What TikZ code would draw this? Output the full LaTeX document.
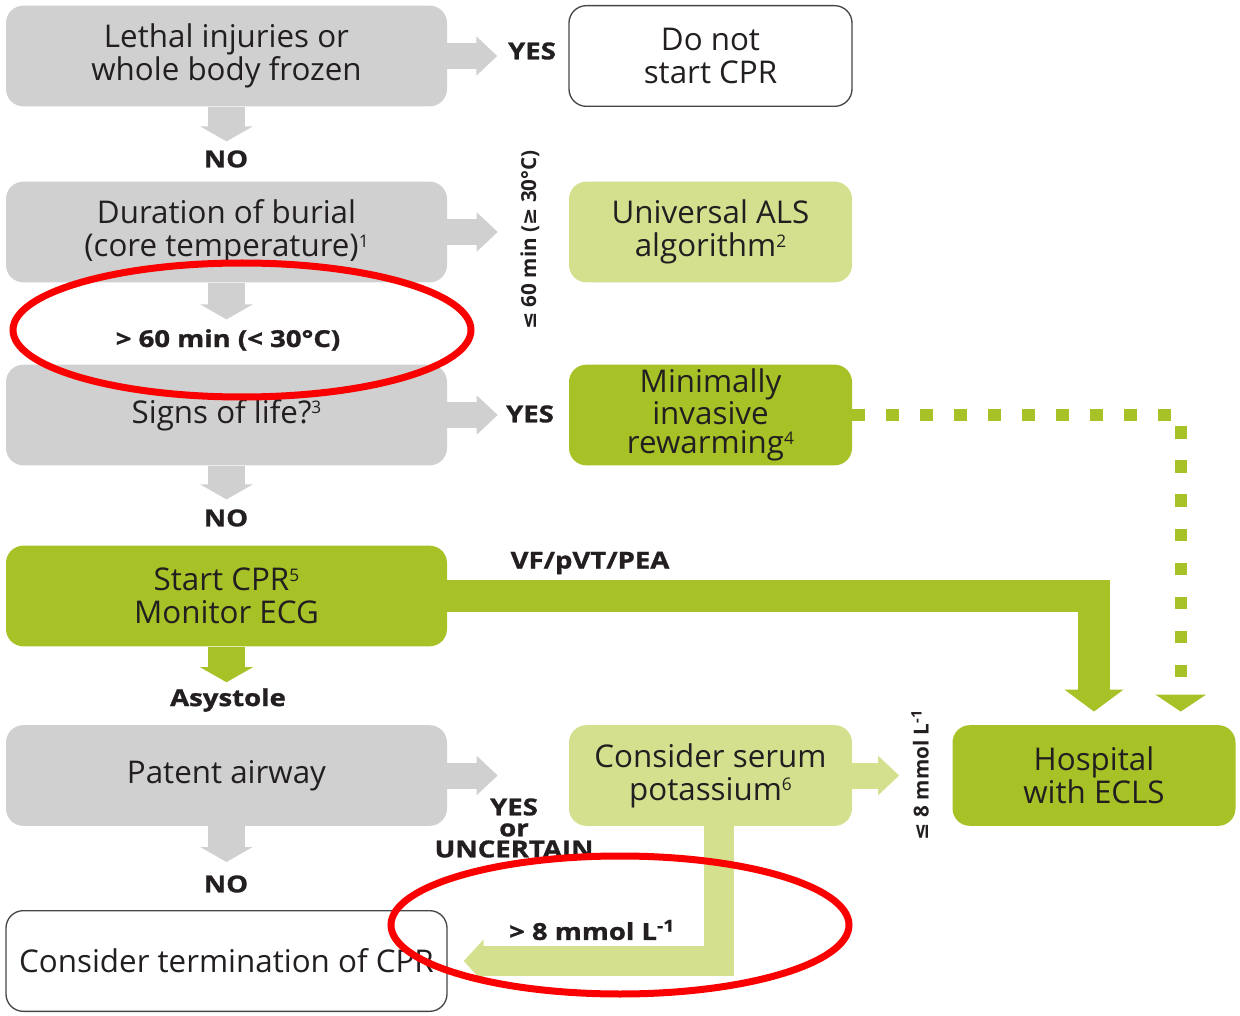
\documentclass[tikz,border=0pt]{standalone}
\usepackage{fontspec}
\setmainfont{Open Sans}
\newfontfamily\symfont{DejaVu Sans}
\newfontfamily\tagfont[FakeStretch=1.18, BoldFeatures={FakeBold=1.2}]{Open Sans}
\usetikzlibrary{arrows.meta,calc}

\definecolor{boxgray}{RGB}{208,208,208}
\definecolor{lightgreen}{RGB}{213,224,143}
\definecolor{darkgreen}{RGB}{167,194,38}
\definecolor{inktext}{RGB}{35,31,32}
\definecolor{rim}{RGB}{70,70,70}
\definecolor{ringred}{RGB}{250,0,0}

\newcommand{\lesym}{{\symfont\bfseries ≤}}
\newcommand{\gesym}{{\symfont\bfseries ≥}}
% small footnote markers, tops level with the capitals
\newcommand{\fnmark}[1]{\raisebox{7pt}{\fontsize{13}{13}\selectfont #1}}

\begin{document}
\begin{tikzpicture}[x=0.75pt,y=-0.75pt,
  box/.style={rectangle, rounded corners=13pt, minimum height=75.5pt,
    align=center, inner sep=0pt, text=inktext,
    font=\fontsize{23.5}{24.75}\selectfont},
  leftbox/.style={box, minimum width=330.75pt},
  rightbox/.style={box, minimum width=212.25pt},
  greybox/.style={fill=boxgray},
  palebox/.style={fill=lightgreen},
  greenbox/.style={fill=darkgreen},
  openbox/.style={fill=white, draw=rim, line width=1pt},
  tag/.style={font=\tagfont\bfseries\fontsize{17.5}{16}\selectfont, text=inktext, inner sep=0pt, align=center},
  sidetag/.style={font=\bfseries\fontsize{15.5}{16}\selectfont, text=inktext, inner sep=0pt, rotate=90},
  downflow/.style={line width=27.75pt, -{Triangle[width=39pt,length=11.25pt]}},
  sideflow/.style={line width=19.5pt, -{Triangle[width=28.5pt,length=15.75pt]}},
  ringmark/.style={draw=ringred, line width=5.25pt}
]
\useasboundingbox (0,0) rectangle (1240,1016);

% left column
\node[leftbox, greybox] (lethal) at (226.5,56) {Lethal injuries or\\whole body frozen};
\node[leftbox, greybox] (burial) at (226.5,232) {Duration of burial\\(core temperature)\fnmark{1}};
\node[leftbox, greybox] (signs) at (226.5,415) {Signs of life?\fnmark{3}};
\node[leftbox, greenbox] (cpr) at (226.5,596) {Start CPR\fnmark{5}\\Monitor ECG};
\node[leftbox, greybox] (airway) at (226.5,775.5) {Patent airway};
\node[leftbox, openbox] (stop) at (226.5,961) {Consider termination of CPR};

% right column
\node[rightbox, openbox] (nocpr) at (710.5,56) {Do not\\start CPR};
\node[rightbox, palebox] (als) at (710.5,232) {Universal ALS\\algorithm\fnmark{2}};
\node[rightbox, greenbox, font=\fontsize{23.5}{21.4}\selectfont] (rewarm) at (710.5,415) {Minimally\\invasive\\rewarming\fnmark{4}};
\node[rightbox, palebox] (potassium) at (710.5,775.5) {Consider serum\\potassium\fnmark{6}};
\node[rightbox, greenbox] (ecls) at (1094,775.5) {Hospital\\with ECLS};

\coordinate (dotend) at ($(ecls.north east)+(-55,0)$);
\coordinate (kstart) at ($(potassium.south)+(8,0)$);

% vertical decision arrows
\draw[downflow, boxgray, shorten >=30pt] (lethal.south) -- (burial.north);
\draw[downflow, boxgray, shorten >=33.75pt] (burial.south) -- (signs.north);
\draw[downflow, boxgray, shorten >=34.5pt] (signs.south) -- (cpr.north);
\draw[downflow, darkgreen, shorten >=32pt] (cpr.south) -- (airway.north);
\draw[downflow, boxgray, shorten >=36pt] (airway.south) -- (stop.north);

% sideways decision arrows
\draw[sideflow, boxgray, shorten >=53.25pt] (lethal.east) -- (nocpr.west);
\draw[sideflow, boxgray, shorten >=53.25pt] (burial.east) -- (als.west);
\draw[sideflow, boxgray, shorten >=53.25pt] (signs.east) -- (rewarm.west);
\draw[sideflow, boxgray, shorten >=53.25pt] (airway.east) -- (potassium.west);
\draw[sideflow, lightgreen, shorten >=39.75pt] (potassium.east) -- (ecls.west);

% shockable rhythm to ECLS
\draw[darkgreen, line width=24pt, -{Triangle[width=43.5pt,length=16.5pt]}, shorten >=10pt]
  (cpr.east) -| (ecls.north);

% rewarming to ECLS, dotted
\draw[darkgreen, line width=9pt, dash pattern=on 9.5pt off 16pt,
  -{Triangle[width=37.5pt,length=12.75pt]}, shorten >=10pt]
  (rewarm.east) -| (dotend);

% high potassium to termination
\draw[lightgreen, line width=22.5pt, -{Triangle[width=31.5pt,length=15pt]}, shorten >=12pt]
  (kstart) |- (stop.east);

% branch labels
\node[tag] (l1) at (532,51) {YES};
\node[tag] (l2) at (226,159) {NO};
\node[sidetag] (l3) at (530,240) {\lesym\ 60 min (\gesym\ 30°C)};
\node[tag] (l4) at (228,340) {> 60 min (< 30°C)};
\node[tag] (l5) at (530,414) {YES};
\node[tag] (l6) at (226,518) {NO};
\node[tag] (l7) at (590,563) {VF/pVT/PEA};
\node[tag] (l8) at (228,700) {Asystole};
\node[tag, font=\tagfont\bfseries\fontsize{17.5}{15.75}\selectfont] (l9) at (514,828) {YES\\or\\UNCERTAIN};
\node[tag] (l10) at (226,884) {NO};
\node[tag] (l11) at (592,930) {> 8 mmol L\textsuperscript{-1}};
\node[sidetag] (l12) at (920,775) {\lesym\ 8 mmol L\textsuperscript{-1}};

% highlight rings
\draw[ringmark] (242,330) ellipse [x radius=229, y radius=67];
\draw[ringmark] (620,925) ellipse [x radius=229, y radius=69];
\end{tikzpicture}
\end{document}
